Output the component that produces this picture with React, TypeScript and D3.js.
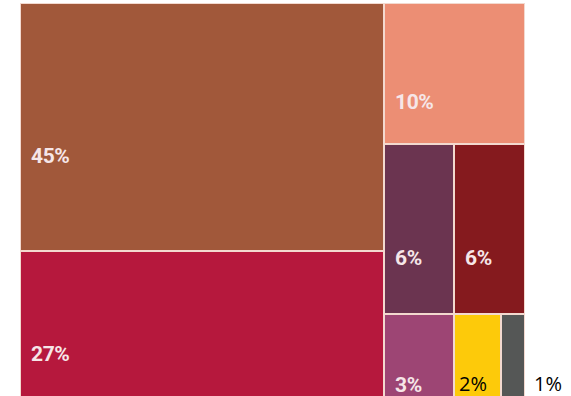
import React from "react";
import * as d3 from "d3";

const labels = ["45%", "27%", "10%", "6%", "6%", "3%", "2%", "1%"];
const values = [45, 27, 10, 6, 6, 3, 2, 1];
const colors = ["#a1583a", "#b6183d", "#ec8e74", "#6b3450", "#851a1e", "#9d4574", "#fdca0a", "#555756"];
// grouping of leaves (indices) into the slice-and-dice structure
const groups = [[[0], [1]], [[2], [3, 4], [5, 6, 7]]];
const outsideLabels = [false, false, false, false, false, false, true, true];

type Node = { name?: string; value?: number; idx?: number; children?: Node[] };

export default function App() {
  const W = 571, H = 396;
  const x0 = 21, y0 = 4, x1 = 524, y1 = 398;

  const tree: Node = {
    children: groups.map((g) => ({
      children: g.map((row) =>
        row.length === 1
          ? { idx: row[0], value: values[row[0]] }
          : { children: row.map((i) => ({ idx: i, value: values[i] })) }
      ),
    })),
  };

  const root = d3
    .hierarchy<Node>(tree)
    .sum((d) => d.value ?? 0);

  d3.treemap<Node>()
    .tile(d3.treemapSliceDice)
    .size([x1 - x0, y1 - y0])
    .paddingInner(2)
    .round(true)(root);

  const leaves = root.leaves() as d3.HierarchyRectangularNode<Node>[];

  return (
    <svg width={W} height={H} style={{ position: "absolute", left: 0, top: 0 }}>
      <rect x={0} y={0} width={W} height={H} fill="#ffffff" />
      <g transform={`translate(${x0},${y0})`}>
        <rect x={-1} y={-1} width={x1 - x0 + 2} height={y1 - y0 + 2} fill="#f3d9cf" />
        {leaves.map((l) => {
          const i = l.data.idx as number;
          return (
            <rect key={"r" + i} x={l.x0} y={l.y0} width={l.x1 - l.x0} height={l.y1 - l.y0} fill={colors[i]} />
          );
        })}
        {leaves.map((l) => {
          const i = l.data.idx as number;
          if (outsideLabels[i]) return null;
          const cy = (l.y0 + l.y1) / 2 + 28;
          return (
            <text
              key={"t" + i}
              x={l.x0 + 10}
              y={cy}
              dy="0.36em"
              fill="#f6e6e8"
              fontFamily="Roboto, 'DejaVu Sans', sans-serif"
              fontWeight={700}
              fontSize={21}
              letterSpacing={-0.4}
            >
              {labels[i]}
            </text>
          );
        })}
        {leaves.map((l) => {
          const i = l.data.idx as number;
          if (!outsideLabels[i]) return null;
          const xPos = i === 6 ? l.x0 + 4 : x1 - x0 + 10;
          return (
            <text
              key={"o" + i}
              x={xPos}
              y={391 - y0}
              fill="#000000"
              fontFamily="'Open Sans', 'Noto Sans', sans-serif"
              fontSize={20}
            >
              {labels[i]}
            </text>
          );
        })}
      </g>
    </svg>
  );
}
